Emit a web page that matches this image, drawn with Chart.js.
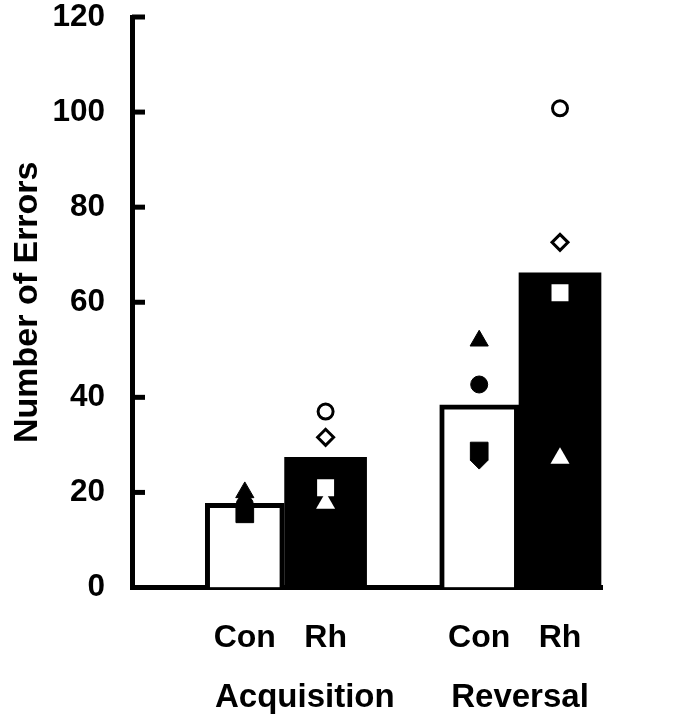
<!DOCTYPE html>
<html>
<head>
<meta charset="utf-8">
<script src="https://cdn.jsdelivr.net/npm/chart.js@4.4.0/dist/chart.umd.min.js"></script>
<style>
  html, body { margin: 0; padding: 0; background: #fff; }
  #wrap { width: 684px; height: 720px; }
</style>
</head>
<body>
<div id="wrap"><canvas id="errorsChart" width="684" height="720"></canvas></div>
<script>
// Grupos y posiciones en el eje x
const groupLabels = ['Acquisition', 'Reversal'];
const groupPos = [2.16, 4.85];
const barLabels = ['Con', 'Rh', 'Con', 'Rh'];
const barPos = [1.41, 2.42, 4.34, 5.35];
const conPos = [barPos[0], barPos[2]];
const rhPos = [barPos[1], barPos[3]];

// Medias (barras)
const conMeans = [17.7, 38.4];
const rhMeans = [27.4, 66.2];

// Sujetos individuales: Con (relleno negro), Rh (relleno blanco)
const conTriangle = [20.0, 51.9];
const conCircle = [17.5, 42.7];
const conSquare = [15.5, 28.7];
const conDiamond = [17.5, 26.8];
const rhTriangle = [17.7, 27.2];
const rhCircle = [37.0, 100.8];
const rhSquare = [21.0, 62.0];
const rhDiamond = [31.6, 72.6];

const yTicks = [0, 20, 40, 60, 80, 100, 120];

const FONT = '"Liberation Sans", Arial, Helvetica, sans-serif';

function toPoints(values, xs) {
    return values.map((v, i) => ({ x: xs[i], y: v }));
}

function markerSet(label, values, xs, style, radius, filled, border) {
    return {
        type: 'scatter',
        label: label,
        data: toPoints(values, xs),
        pointStyle: style,
        pointRadius: radius,
        pointBackgroundColor: filled ? '#000' : '#fff',
        pointBorderColor: '#000',
        pointBorderWidth: border,
        showLine: false,
        order: 1
    };
}

// Marcas hacia dentro del eje y
const innerTicks = {
    id: 'innerTicks',
    beforeDatasetsDraw(chart) {
        const y = chart.scales.y;
        const ctx = chart.ctx;
        const left = chart.chartArea.left;
        ctx.save();
        ctx.strokeStyle = '#000';
        ctx.lineWidth = 5;
        y.ticks.forEach(t => {
            const py = y.getPixelForValue(t.value);
            ctx.beginPath();
            ctx.moveTo(left, py);
            ctx.lineTo(left + 13, py);
            ctx.stroke();
        });
        ctx.restore();
    }
};

function noPadding(s) {
    s.paddingTop = 0;
    s.paddingBottom = 0;
    s.paddingLeft = 0;
    s.paddingRight = 0;
}

const ctx = document.getElementById('errorsChart').getContext('2d');

new Chart(ctx, {
    type: 'bar',
    data: {
        datasets: [
            markerSet('Con triangle', conTriangle, conPos, 'triangle', 10.5, true, 1),
            markerSet('Con circle', conCircle, conPos, 'circle', 8.5, true, 1),
            markerSet('Con square', conSquare, conPos, 'rect', 12.5, true, 1),
            markerSet('Con diamond', conDiamond, conPos, 'rectRot', 9, true, 1),
            markerSet('Rh triangle', rhTriangle, rhPos, 'triangle', 11, false, 0),
            markerSet('Rh circle', rhCircle, rhPos, 'circle', 7.5, false, 3),
            markerSet('Rh square', rhSquare, rhPos, 'rect', 12, false, 0),
            markerSet('Rh diamond', rhDiamond, rhPos, 'rectRot', 8, false, 3),
            {
                label: 'Con',
                data: toPoints(conMeans, conPos),
                backgroundColor: '#fff',
                borderColor: '#000',
                borderWidth: 5,
                barThickness: 79,
                grouped: false,
                order: 2
            },
            {
                label: 'Rh',
                data: toPoints(rhMeans, rhPos),
                backgroundColor: '#000',
                borderColor: '#000',
                borderWidth: 0,
                barThickness: 82,
                grouped: false,
                order: 2
            }
        ]
    },
    options: {
        responsive: false,
        devicePixelRatio: 1,
        animation: false,
        layout: { padding: { left: 0, right: 82, top: 17, bottom: 0 } },
        plugins: {
            legend: { display: false },
            tooltip: { enabled: false }
        },
        scales: {
            x: {
                type: 'linear',
                position: 'bottom',
                offset: false,
                min: 0,
                max: 5.875,
                afterBuildTicks: s => { s.ticks = barPos.map(v => ({ value: v })); },
                afterFit: s => { s.height = 80; noPadding(s); },
                ticks: {
                    callback: (v, i) => barLabels[i],
                    autoSkip: false,
                    maxRotation: 0,
                    padding: 31,
                    color: '#000',
                    font: { family: FONT, size: 32, weight: 'bold' }
                },
                grid: { display: false, drawTicks: false },
                border: { display: true, color: '#000', width: 5 }
            },
            x2: {
                type: 'linear',
                position: 'bottom',
                offset: false,
                min: 0,
                max: 5.875,
                afterBuildTicks: s => { s.ticks = groupPos.map(v => ({ value: v })); },
                afterFit: s => { s.height = 52.5; noPadding(s); },
                ticks: {
                    callback: (v, i) => groupLabels[i],
                    autoSkip: false,
                    maxRotation: 0,
                    padding: 11,
                    color: '#000',
                    font: { family: FONT, size: 33, weight: 'bold' }
                },
                grid: { display: false, drawTicks: false },
                border: { display: false }
            },
            y: {
                min: 0,
                max: 120,
                afterBuildTicks: s => { s.ticks = yTicks.map(v => ({ value: v })); },
                afterFit: s => { s.width = 132; noPadding(s); },
                ticks: {
                    padding: 27,
                    color: '#000',
                    font: { family: FONT, size: 31.5, weight: 'bold' }
                },
                grid: { display: false, drawTicks: false },
                border: { display: true, color: '#000', width: 5 },
                title: {
                    display: true,
                    text: 'Number of Errors',
                    color: '#000',
                    padding: { top: 7, bottom: 0 },
                    font: { family: FONT, size: 34, weight: 'bold' }
                }
            }
        }
    },
    plugins: [innerTicks]
});
</script>
</body>
</html>
